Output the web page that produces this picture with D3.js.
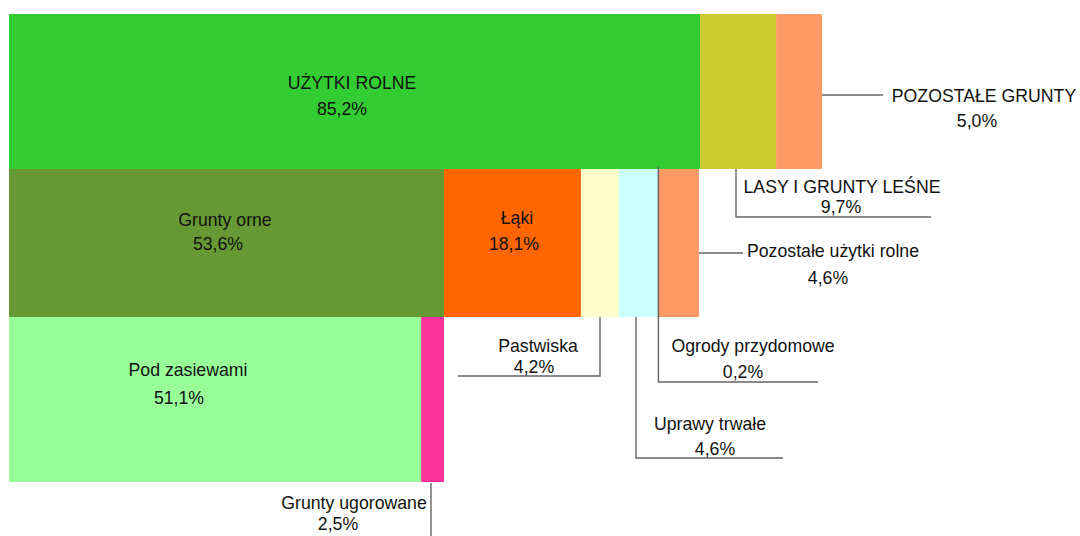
<!DOCTYPE html>
<html><head><meta charset="utf-8">
<script src="https://cdn.jsdelivr.net/npm/d3@7"></script>
<style>
html,body{margin:0;padding:0;background:#fff;}
svg{display:block;font-family:"Liberation Sans",Arial,sans-serif;}
</style></head>
<body><svg id="c" width="1080" height="536"></svg>
<script>
// ---- data (bar widths as measured shares of total area, labels as printed) ----
const row1Names = ["UŻYTKI ROLNE", "LASY I GRUNTY LEŚNE", "POZOSTAŁE GRUNTY"];
const row1Shares = [85.0, 9.35, 5.65];
const row1Labels = ["85,2%", "9,7%", "5,0%"];

const row2Names = ["Grunty orne", "Łąki", "Pastwiska", "Uprawy trwałe", "Ogrody przydomowe", "Pozostałe użytki rolne"];
const row2Shares = [53.5, 16.85, 4.67, 4.8, 0.12, 4.92];
const row2Labels = ["53,6%", "18,1%", "4,2%", "4,6%", "0,2%", "4,6%"];

const row3Names = ["Pod zasiewami", "Grunty ugorowane"];
const row3Shares = [50.7, 2.8];
const row3Labels = ["51,1%", "2,5%"];

const row1Colors = ["#33CC33", "#CCCC33", "#FF9966"];
const row2Colors = ["#669933", "#FF6600", "#FFFFCC", "#CCFFFF", "#555555", "#FF9966"];
const row3Colors = ["#99FF99", "#FF3399"];

// ---- layout ----
const svg = d3.select("#c");
const x = d3.scaleLinear().domain([0, 100]).range([9, 822]);
const rowsY = [[14, 169], [169, 317], [317, 482]];

function stack(shares) {
  let acc = 0;
  return shares.map(v => { const s = acc; acc += v; return [s, acc]; });
}
const rows = [
  {names: row1Names, shares: row1Shares, labels: row1Labels, colors: row1Colors},
  {names: row2Names, shares: row2Shares, labels: row2Labels, colors: row2Colors},
  {names: row3Names, shares: row3Shares, labels: row3Labels, colors: row3Colors}
];
const segs = [];
rows.forEach((r, ri) => {
  stack(r.shares).forEach((s, i) => segs.push({
    row: ri, i, name: r.names[i], label: r.labels[i], color: r.colors[i], x0: s[0], x1: s[1]
  }));
});

svg.append("g").selectAll("rect").data(segs).join("rect")
  .attr("x", d => x(d.x0))
  .attr("y", d => rowsY[d.row][0])
  .attr("width", d => x(d.x1) - x(d.x0))
  .attr("height", d => rowsY[d.row][1] - rowsY[d.row][0])
  .attr("fill", d => d.color);

const seg = (r, i) => segs.find(s => s.row === r && s.i === i);
const mid = d => (x(d.x0) + x(d.x1)) / 2;

// ---- leader lines ----
const lc = "#666";
const lines = [];
lines.push([[x(seg(0,2).x1), 95], [883, 95]]);
lines.push([[736, rowsY[0][1]], [736, 217], [931, 217]]);
lines.push([[x(seg(1,5).x1), 253], [743, 253]]);
lines.push([[600, rowsY[1][1]], [600, 376], [458, 376]]);
lines.push([[mid(seg(1,4)), 167], [mid(seg(1,4)), 382], [818, 382]]);
lines.push([[636, rowsY[1][1]], [636, 458], [783, 458]]);
lines.push([[431, rowsY[2][1] + 1], [431, 536]]);

svg.append("g").selectAll("path").data(lines).join("path")
  .attr("d", d => d3.line()(d))
  .attr("fill", "none").attr("stroke", lc).attr("stroke-width", 1.4);

// ---- labels ----
const texts = [
  [row1Names[0], 352, 89], [row1Labels[0], 342, 115],
  [row1Names[2], 984, 102], [row1Labels[2], 977, 127],
  [row1Names[1], 842, 193], [row1Labels[1], 841, 213],
  [row2Names[0], 225, 226], [row2Labels[0], 218, 250],
  [row2Names[1], 517, 224], [row2Labels[1], 514, 250],
  [row2Names[5], 833, 257], [row2Labels[5], 828, 284],
  [row2Names[2], 538, 352], [row2Labels[2], 534, 373],
  [row2Names[4], 753, 352], [row2Labels[4], 743, 378],
  [row2Names[3], 710, 430], [row2Labels[3], 715, 455],
  [row3Names[0], 188, 376], [row3Labels[0], 179, 404],
  [row3Names[1], 354, 509], [row3Labels[1], 338, 530]
];
svg.append("g").selectAll("text").data(texts).join("text")
  .attr("x", d => d[1]).attr("y", d => d[2])
  .attr("text-anchor", "middle")
  .attr("font-size", 17.7)
  .attr("fill", "#111")
  .text(d => d[0]);
</script>
</body></html>
